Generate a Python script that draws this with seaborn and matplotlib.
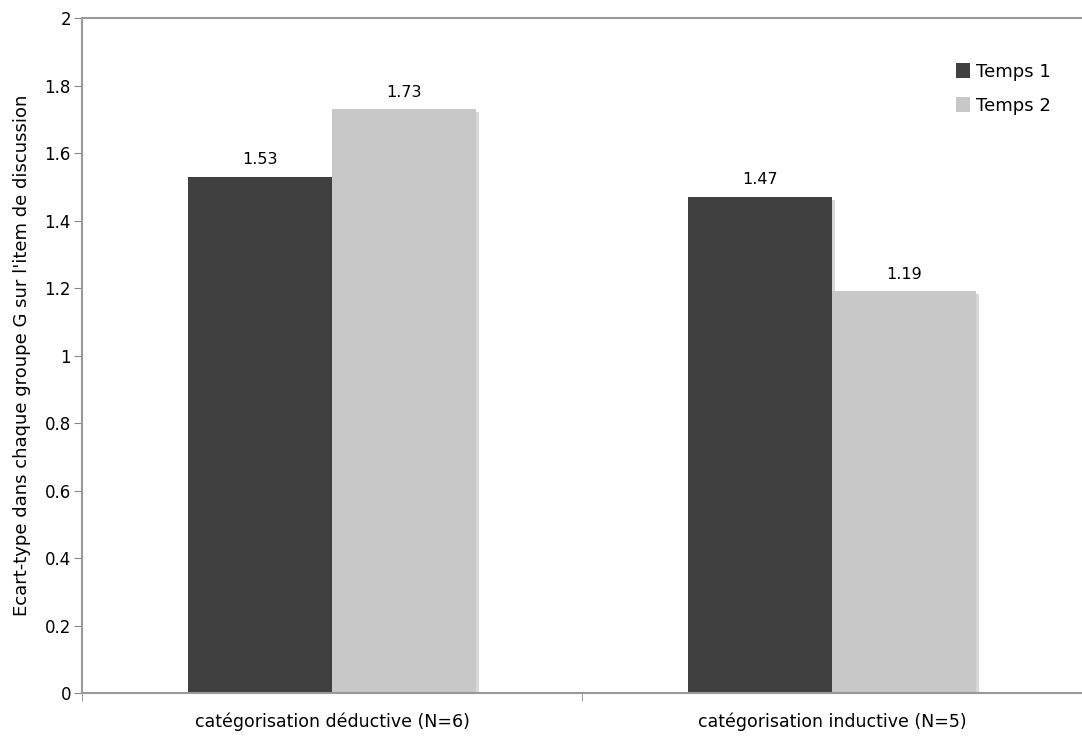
import pandas as pd
import seaborn as sns
import matplotlib.pyplot as plt
import matplotlib.patheffects as pe

categories = ["catégorisation déductive (N=6)", "catégorisation inductive (N=5)"]
series = ["Temps 1", "Temps 2"]
temps1 = [1.53, 1.47]
temps2 = [1.73, 1.19]
colors = ["#404040", "#c8c8c8"]

df = pd.DataFrame({
    "categorie": categories * 2,
    "temps": [series[0]] * 2 + [series[1]] * 2,
    "valeur": temps1 + temps2,
})

sns.set_style("white")
plt.rcParams["font.family"] = ["DejaVu Sans"]
plt.rcParams["text.color"] = "black"
plt.rcParams["xtick.color"] = "black"
plt.rcParams["ytick.color"] = "black"
plt.rcParams["axes.labelcolor"] = "black"

fig = plt.figure(figsize=(10.82, 7.4), dpi=100)
ax = fig.add_axes([0.0758, 0.0635, 0.9242, 0.912])

sns.barplot(data=df, x="categorie", y="valeur", hue="temps", palette=colors,
            width=0.576, gap=0, saturation=1, ax=ax, errorbar=None, linewidth=0)

# legere ombre comme dans le graphique d'origine
for c in ax.containers:
    for p in c:
        p.set_path_effects([pe.SimplePatchShadow(offset=(2, -2), shadow_rgbFace="#b0b0b0", alpha=0.5),
                            pe.Normal()])
    ax.bar_label(c, fmt="%.2f", padding=7, fontsize=11.5)

ax.set_ylim(0, 2)
ax.set_xlim(-0.5, 1.5)
ax.set_yticks([0, 0.2, 0.4, 0.6, 0.8, 1, 1.2, 1.4, 1.6, 1.8, 2])
ax.set_yticklabels(["0", "0.2", "0.4", "0.6", "0.8", "1", "1.2", "1.4", "1.6", "1.8", "2"])
ax.tick_params(axis="y", labelsize=12, length=6, color="#888888", left=True, direction="out", pad=2)
ax.tick_params(axis="x", which="major", labelsize=12.5, length=0, pad=14)
ax.set_xticks([-0.5, 0.5, 1.5], minor=True)
ax.tick_params(axis="x", which="minor", length=6, color="#888888", bottom=True, direction="out")

for s in ["left", "bottom", "top"]:
    ax.spines[s].set_color("#999999")
    ax.spines[s].set_linewidth(1.5)
ax.spines["right"].set_visible(False)

ax.set_xlabel("")
ax.set_ylabel("Ecart-type dans chaque groupe G sur l'item de discussion", fontsize=13, labelpad=10)
ax.yaxis.set_label_coords(-0.051, 0.5)

ax.legend(loc="upper right", bbox_to_anchor=(0.985, 0.958), frameon=False,
          fontsize=13, handlelength=0.8, handleheight=0.9, handletextpad=0.3,
          labelspacing=0.9, title=None)

fig.savefig("out.png", dpi=100)
